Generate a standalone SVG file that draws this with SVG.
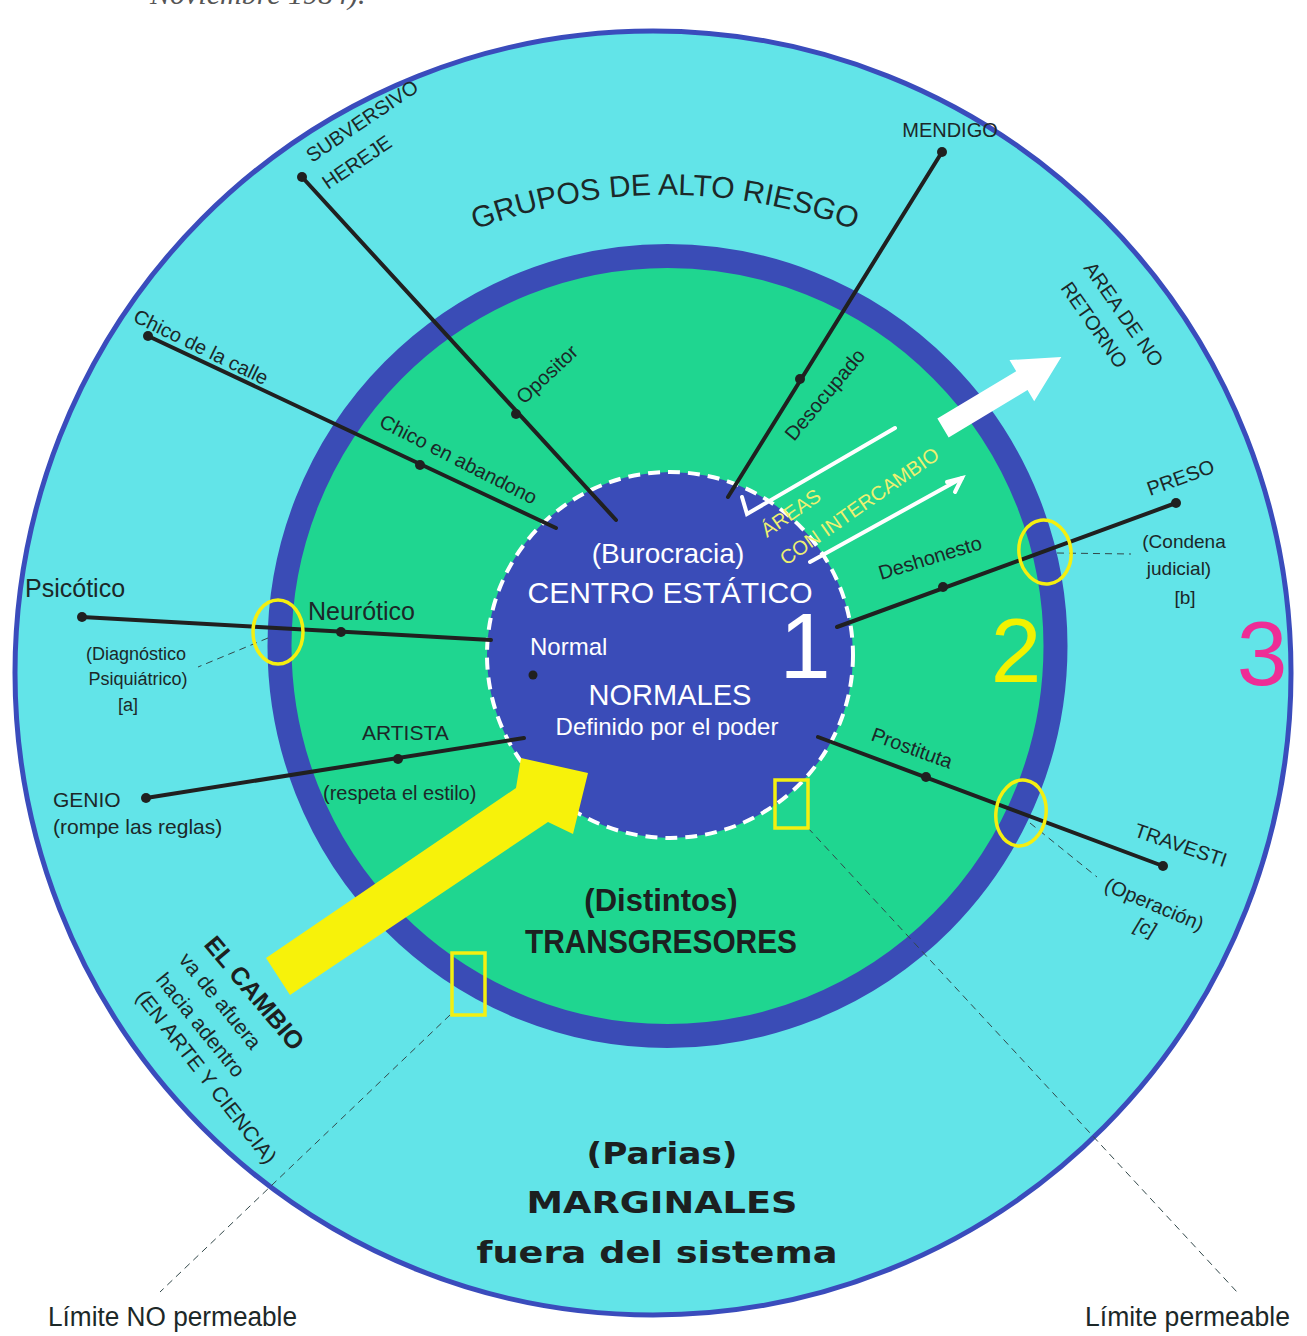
<svg xmlns="http://www.w3.org/2000/svg" width="1307" height="1336" viewBox="0 0 1307 1336">
<defs>
<style>
.t{font-family:"Liberation Sans",Arial,sans-serif;fill:#1c2828}
.w{font-family:"Liberation Sans",Arial,sans-serif;fill:#ffffff}
.b{font-family:"Liberation Sans",Arial,sans-serif;font-weight:bold;fill:#1c2020}
.k{font-family:"DejaVu Sans","Liberation Sans",sans-serif;font-weight:bold;fill:#1c2020}
.ln{stroke:#202020;stroke-width:4;stroke-linecap:round;fill:none}
.dot{fill:#202020}
.lead{stroke:#33484a;stroke-width:1;stroke-dasharray:7 5;fill:none}
.ylw{stroke:#f4ef10;stroke-width:3.5;fill:none}
.wl{stroke:#ffffff;stroke-width:4;stroke-linecap:round;fill:none}
</style>
<path id="arcTitle" d="M 429,250 A 532 532 0 0 1 901,250"/>
</defs>
<rect width="1307" height="1336" fill="#ffffff"/>
<text x="150" y="4" font-family="Liberation Serif,serif" font-style="italic" font-size="30" fill="#555555">Noviembre 1984).</text>

<g id="zone3">
<ellipse cx="653" cy="673" rx="638" ry="642" fill="#62e4e8" stroke="#3a4cbc" stroke-width="5"/>
</g>
<g id="zone2">
<ellipse cx="667.5" cy="646" rx="388" ry="390" fill="#1fd690" stroke="#3a4cb6" stroke-width="24"/>
</g>
<g id="zone1">
<circle cx="670" cy="655" r="183" fill="#3a4cb8" stroke="#ffffff" stroke-width="4" stroke-dasharray="12 8"/>
</g>

<g id="title">
<text class="t" font-size="30" text-anchor="middle"><textPath href="#arcTitle" startOffset="50%">GRUPOS DE ALTO RIESGO</textPath></text>
</g>

<g id="change-arrow">
<polygon points="266,958 516,788 521,758 588,773 573,834 548,822 290,995" fill="#f7f20a"/>
</g>
<g id="noreturn-arrow">
<polygon transform="translate(943,428) rotate(-31)" points="0,-11 92,-11 92,-24 138,0 92,24 92,11 0,11" fill="#ffffff"/>
</g>
<g id="exchange">
<polyline class="wl" points="895,428 747,514 742,497"/>
<line class="wl" x1="810" y1="562" x2="962" y2="478"/>
<polyline class="wl" points="947,482 962,478 955,492"/>
<text class="t" style="fill:#eef070" font-size="20" transform="translate(767,538) rotate(-35)">ÁREAS</text>
<text class="t" style="fill:#eef070" font-size="20" transform="translate(786,566) rotate(-35)">CON INTERCAMBIO</text>
</g>

<g id="connectors">
<line class="ln" x1="302" y1="177" x2="616" y2="520"/>
<line class="ln" x1="942" y1="152" x2="728" y2="497"/>
<line class="ln" x1="148" y1="336" x2="556" y2="528"/>
<line class="ln" x1="82" y1="617" x2="491" y2="640"/>
<line class="ln" x1="146" y1="798" x2="524" y2="738"/>
<line class="ln" x1="1176" y1="503" x2="837" y2="627"/>
<line class="ln" x1="1163" y1="866" x2="818" y2="737"/>
<line class="lead" x1="268" y1="638" x2="198" y2="667"/>
<line class="lead" x1="1057" y1="553" x2="1131" y2="554"/>
<line class="lead" x1="1030" y1="823" x2="1097" y2="877"/>
<line class="lead" x1="808" y1="828" x2="1237" y2="1292"/>
<line class="lead" x1="450" y1="1015" x2="160" y2="1292"/>
</g>

<g id="boundaries">
<ellipse class="ylw" cx="278" cy="632" rx="25" ry="32"/>
<ellipse class="ylw" cx="1045" cy="552" rx="26" ry="32" transform="rotate(-8 1045 552)"/>
<ellipse class="ylw" cx="1021" cy="813" rx="25" ry="33" transform="rotate(8 1021 813)"/>
<rect class="ylw" x="775" y="780" width="33" height="48"/>
<rect class="ylw" x="452" y="953" width="33" height="62"/>
</g>

<g id="n-subversivo">
<circle class="dot" cx="302" cy="177" r="5"/>
<text class="t" font-size="20" transform="translate(312,163) rotate(-34)">SUBVERSIVO</text>
<text class="t" font-size="20" transform="translate(328,190) rotate(-34)">HEREJE</text>
</g>
<g id="n-opositor">
<circle class="dot" cx="516" cy="414" r="5"/>
<text class="t" font-size="20" transform="translate(524,405) rotate(-43)">Opositor</text>
</g>
<g id="n-mendigo">
<circle class="dot" cx="942" cy="152" r="5"/>
<text class="t" font-size="20" x="950" y="137" text-anchor="middle">MENDIGO</text>
</g>
<g id="n-desocupado">
<circle class="dot" cx="800" cy="379" r="5"/>
<text class="t" font-size="20" transform="translate(794,442) rotate(-50)">Desocupado</text>
</g>
<g id="n-noretorno">
<text class="t" font-size="20" transform="translate(1083,268) rotate(55)">AREA DE NO</text>
<text class="t" font-size="20" transform="translate(1060,288) rotate(55)">RETORNO</text>
</g>
<g id="n-chicocalle">
<circle class="dot" cx="148" cy="336" r="5"/>
<text class="t" font-size="20" transform="translate(132,321) rotate(26)">Chico de la calle</text>
</g>
<g id="n-chicoabandono">
<circle class="dot" cx="420" cy="465" r="5"/>
<text class="t" font-size="20" transform="translate(378,426) rotate(27)">Chico en abandono</text>
</g>
<g id="n-psicotico">
<circle class="dot" cx="82" cy="617" r="5"/>
<text class="t" font-size="25" x="25" y="597">Psicótico</text>
<text class="t" font-size="18" text-anchor="middle" x="136" y="660">(Diagnóstico</text>
<text class="t" font-size="18" text-anchor="middle" x="138" y="685">Psiquiátrico)</text>
<text class="t" font-size="18" text-anchor="middle" x="128" y="711">[a]</text>
</g>
<g id="n-neurotico">
<circle class="dot" cx="341" cy="632" r="5"/>
<text class="t" font-size="25" x="308" y="620">Neurótico</text>
</g>
<g id="n-artista">
<circle class="dot" cx="398" cy="759" r="5"/>
<text class="t" font-size="21" x="362" y="740">ARTISTA</text>
<text class="t" font-size="20" x="323" y="800">(respeta el estilo)</text>
</g>
<g id="n-genio">
<circle class="dot" cx="146" cy="798" r="5"/>
<text class="t" font-size="21" x="53" y="807">GENIO</text>
<text class="t" font-size="21" x="53" y="834">(rompe las reglas)</text>
</g>
<g id="n-preso">
<circle class="dot" cx="1176" cy="503" r="5"/>
<text class="t" font-size="20" transform="translate(1150,496) rotate(-20)">PRESO</text>
<text class="t" font-size="19" text-anchor="middle" x="1184" y="548">(Condena</text>
<text class="t" font-size="19" text-anchor="middle" x="1179" y="575">judicial)</text>
<text class="t" font-size="19" text-anchor="middle" x="1185" y="604">[b]</text>
</g>
<g id="n-deshonesto">
<circle class="dot" cx="943" cy="587" r="5"/>
<text class="t" font-size="20" transform="translate(881,580) rotate(-17)">Deshonesto</text>
</g>
<g id="n-prostituta">
<circle class="dot" cx="926" cy="777" r="5"/>
<text class="t" font-size="20" transform="translate(870,740) rotate(20)">Prostituta</text>
</g>
<g id="n-travesti">
<circle class="dot" cx="1163" cy="866" r="5"/>
<text class="t" font-size="20" transform="translate(1133,836) rotate(19)">TRAVESTI</text>
<text class="t" font-size="20" transform="translate(1103,890) rotate(23)">(Operación)</text>
<text class="t" font-size="20" font-style="italic" transform="translate(1133,930) rotate(20)">[c]</text>
</g>

<g id="center">
<text class="w" font-size="28" text-anchor="middle" x="668" y="563">(Burocracia)</text>
<text class="w" font-size="30" text-anchor="middle" x="670" y="603">CENTRO ESTÁTICO</text>
<text class="w" font-size="24" x="530" y="655">Normal</text>
<circle class="dot" cx="533" cy="675" r="4.5"/>
<text class="w" font-size="29" text-anchor="middle" x="670" y="705">NORMALES</text>
<text class="w" font-size="24" text-anchor="middle" x="667" y="735">Definido por el poder</text>
<text class="w" font-size="92" text-anchor="middle" x="805" y="678">1</text>
</g>

<g id="zone-labels">
<text font-family="Liberation Sans,Arial,sans-serif" font-size="91" fill="#f2f200" text-anchor="middle" x="1016" y="682">2</text>
<text font-family="Liberation Sans,Arial,sans-serif" font-size="91" fill="#ee2d96" text-anchor="middle" x="1262" y="685">3</text>
<text class="b" font-size="31" text-anchor="middle" x="661" y="911">(Distintos)</text>
<text class="b" font-size="33" text-anchor="middle" x="661" y="953" textLength="272" lengthAdjust="spacingAndGlyphs">TRANSGRESORES</text>
<text class="k" font-size="31" text-anchor="middle" x="662" y="1164" textLength="151" lengthAdjust="spacingAndGlyphs">(Parias)</text>
<text class="k" font-size="31" text-anchor="middle" x="662" y="1213" textLength="271" lengthAdjust="spacingAndGlyphs">MARGINALES</text>
<text class="k" font-size="31" text-anchor="middle" x="657" y="1263" textLength="361" lengthAdjust="spacingAndGlyphs">fuera del sistema</text>
</g>

<g id="cambio">
<text class="b" font-size="25" transform="translate(203,945) rotate(50)">EL CAMBIO</text>
<text class="t" font-size="21" transform="translate(178,960) rotate(51)">va de afuera</text>
<text class="t" font-size="21" transform="translate(155,980) rotate(51)">hacia adentro</text>
<text class="t" font-size="21" transform="translate(135,997) rotate(52)">(EN ARTE Y CIENCIA)</text>
</g>

<g id="limits">
<text class="t" font-size="27" x="48" y="1326" textLength="249" lengthAdjust="spacingAndGlyphs">Límite NO permeable</text>
<text class="t" font-size="27" x="1085" y="1326" textLength="205" lengthAdjust="spacingAndGlyphs">Límite permeable</text>
</g>
</svg>
